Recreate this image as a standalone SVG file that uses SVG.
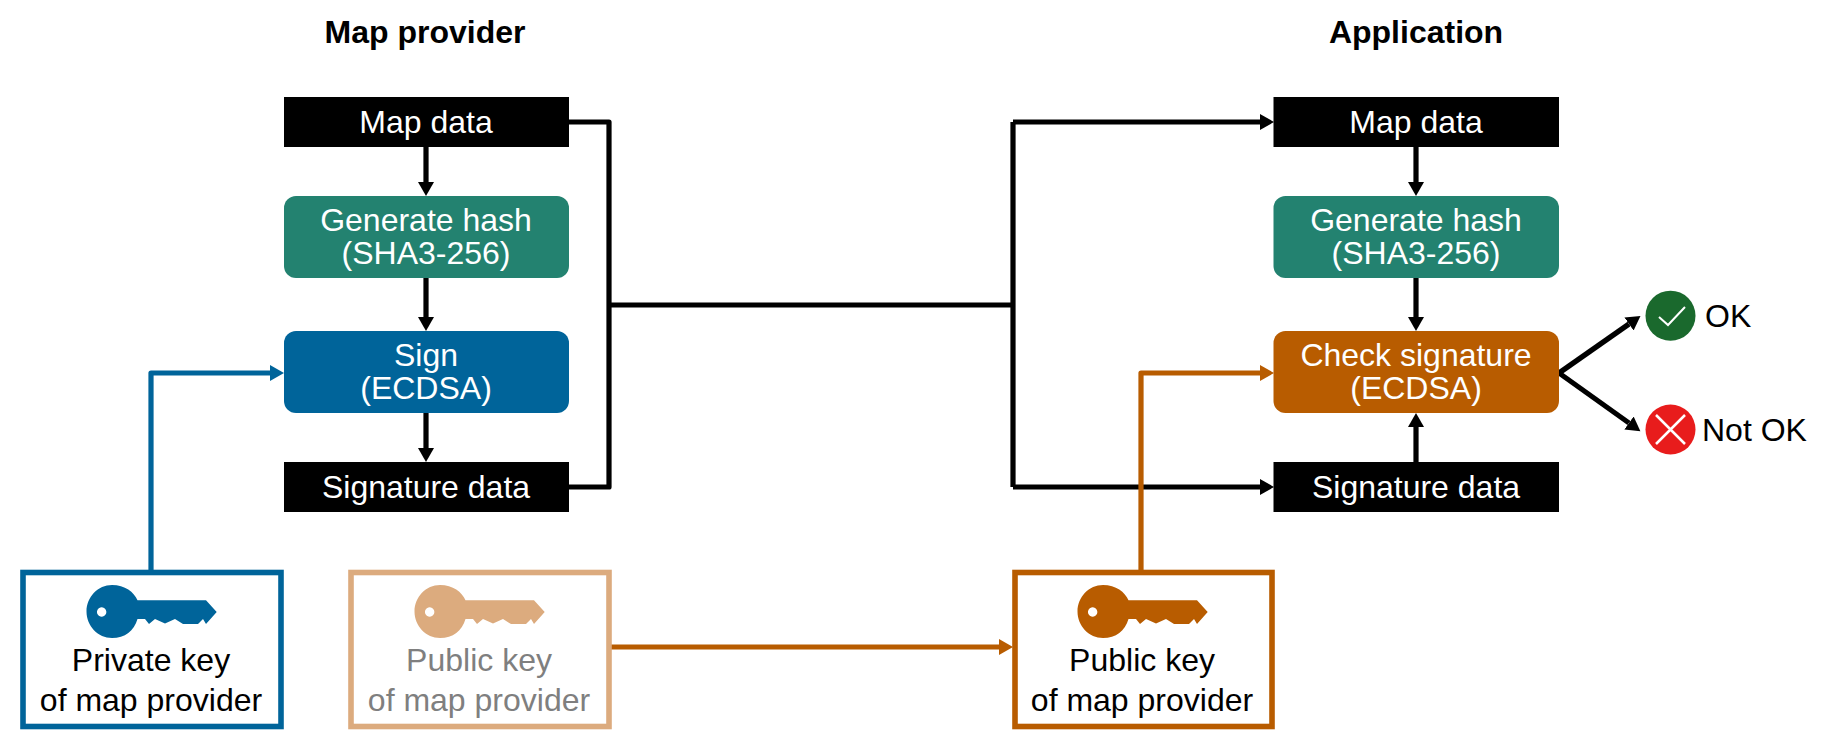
<svg xmlns="http://www.w3.org/2000/svg" width="1830" height="751" viewBox="0 0 1830 751">
<style>
text{font-family:"Liberation Sans",Arial,sans-serif;font-size:32px;text-anchor:middle;fill:#000}
.w{fill:#fff}.g{fill:#7f7f7f}.t{font-weight:bold;font-size:32px}.l{text-anchor:start}
.c{fill:none;stroke:#000;stroke-width:5.2;stroke-linejoin:round}
.bl{stroke:#00649a}.or{stroke:#b85c00}
.a{marker-end:url(#ak)}.ab{marker-end:url(#ab)}.ao{marker-end:url(#ao)}
.blk{fill:#000}.grn{fill:#238270}.blu{fill:#00649a}.org{fill:#b85c00}
.kb{fill:#fff;stroke-width:5.6}
</style>
<defs>
<marker id="ak" markerUnits="userSpaceOnUse" markerWidth="16" markerHeight="18" refX="0" refY="8" orient="auto"><path d="M0 0L14 8L0 16z" fill="#000"/></marker>
<marker id="ab" markerUnits="userSpaceOnUse" markerWidth="16" markerHeight="18" refX="0" refY="8" orient="auto"><path d="M0 0L14 8L0 16z" fill="#00649a"/></marker>
<marker id="ao" markerUnits="userSpaceOnUse" markerWidth="16" markerHeight="18" refX="0" refY="8" orient="auto"><path d="M0 0L14 8L0 16z" fill="#b85c00"/></marker>
<path id="key" fill-rule="evenodd" d="M86.500 611.500C86.500 596.900 98 585 112 585C125 585 134 592 137.500 600.300L206 600.300L216.700 612L206 624L203 619L198 624L183 624L175 619L165 623.500L155 619L149 624L145 619L137.500 619C134 631 125 638 112 638C98 638 86.500 626 86.500 611.500ZM101.600 607.300A4.700 4.700 0 1 0 101.700 607.300Z"/>
</defs>
<g id="connectors">
<path class="c" d="M569 122H609V487H569M609 305H1013M1013 122V487"/>
<path class="c a" d="M1013 122H1260"/>
<path class="c a" d="M1013 487H1260"/>
<path class="c a" d="M426 147V182"/>
<path class="c a" d="M426 278V317"/>
<path class="c a" d="M426 413V448"/>
<path class="c a" d="M1416 147V182"/>
<path class="c a" d="M1416 278V317"/>
<path class="c a" d="M1416 462V427"/>
<path class="c bl ab" d="M151 570V373H270"/>
<path class="c or ao" d="M1141 570V373H1260"/>
<path class="c or ao" d="M611 647H999"/>
<path class="c a" d="M1559 373L1629 324"/>
<path class="c a" d="M1559 373L1629 423"/>
</g>
<text class="t" x="425" y="43">Map provider</text>
<text class="t" x="1416" y="43">Application</text>
<g id="map-data-left"><rect class="blk" x="284" y="97" width="285" height="50"/><text class="w" x="426" y="133">Map data</text></g>
<g id="hash-left"><rect class="grn" x="284" y="196" width="285" height="82" rx="12"/><text class="w" x="426" y="231">Generate hash</text><text class="w" x="426" y="264">(SHA3-256)</text></g>
<g id="sign"><rect class="blu" x="284" y="331" width="285" height="82" rx="12"/><text class="w" x="426" y="366">Sign</text><text class="w" x="426" y="399">(ECDSA)</text></g>
<g id="sig-left"><rect class="blk" x="284" y="462" width="285" height="50"/><text class="w" x="426" y="498">Signature data</text></g>
<g id="map-data-right"><rect class="blk" x="1273.500" y="97" width="285.500" height="50"/><text class="w" x="1416" y="133">Map data</text></g>
<g id="hash-right"><rect class="grn" x="1273.500" y="196" width="285.500" height="82" rx="12"/><text class="w" x="1416" y="231">Generate hash</text><text class="w" x="1416" y="264">(SHA3-256)</text></g>
<g id="check"><rect class="org" x="1273.500" y="331" width="285.500" height="82" rx="12"/><text class="w" x="1416" y="366">Check signature</text><text class="w" x="1416" y="399">(ECDSA)</text></g>
<g id="sig-right"><rect class="blk" x="1273.500" y="462" width="285.500" height="50"/><text class="w" x="1416" y="498">Signature data</text></g>
<g id="private-key"><rect class="kb" x="23" y="572.500" width="258" height="154" stroke="#00649a"/><use href="#key" fill="#00649a"/><text x="151" y="671">Private key</text><text x="151" y="711">of map provider</text></g>
<g id="public-key-faded"><rect class="kb" x="351" y="572.500" width="258" height="154" stroke="#dcab7e"/><use href="#key" x="328" fill="#dcab7e"/><text class="g" x="479" y="671">Public key</text><text class="g" x="479" y="711">of map provider</text></g>
<g id="public-key"><rect class="kb" x="1015" y="572.500" width="257" height="154" stroke="#b85c00"/><use href="#key" x="991" fill="#b85c00"/><text x="1142" y="671">Public key</text><text x="1142" y="711">of map provider</text></g>
<g id="ok"><circle cx="1670.500" cy="315.700" r="25" fill="#1a692d"/><path d="M1659 317L1668 325L1685 307" fill="none" stroke="#fff" stroke-width="2"/><text class="l" x="1705" y="327">OK</text></g>
<g id="not-ok"><circle cx="1670.500" cy="429.500" r="25" fill="#e81c1c"/><path d="M1656 415L1685 444M1685 415L1656 444" fill="none" stroke="#fff" stroke-width="2.500"/><text class="l" x="1702" y="441">Not OK</text></g>
</svg>
